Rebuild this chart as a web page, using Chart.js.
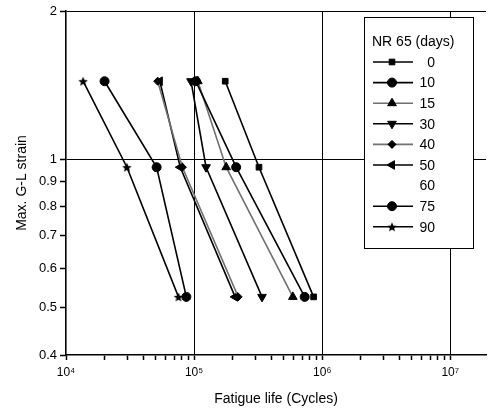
<!DOCTYPE html>
<html>
<head>
<meta charset="utf-8">
<script src="https://cdn.jsdelivr.net/npm/chart.js@4/dist/chart.umd.min.js"></script>
<style>
  html, body { margin: 0; padding: 0; background: #fff; }
</style>
</head>
<body>
<canvas id="fatigaChart" width="492" height="412"></canvas>
<script>
// DATOS
const dias = ["0", "10", "15", "30", "40", "50", "60", "75", "90"];
const deformacion = [1.44, 0.963, 0.525];
const ciclos0  = [175000, 321000, 857000];
const ciclos10 = [103000, 213000, 730000];
const ciclos15 = [107000, 178000, 590000];
const ciclos30 = [94600, 124000, 339000];
const ciclos40 = [52000, 81000, 221000];
const ciclos50 = [54000, 78000, 209000];
const ciclos60 = [];
const ciclos75 = [20000, 51000, 87000];
const ciclos90 = [13600, 29900, 75500];

const xTicksMayores = [1e4, 1e5, 1e6, 1e7];
const xTickLabels = ["10\u2074", "10\u2075", "10\u2076", "10\u2077"];
const yTicks = [0.4, 0.5, 0.6, 0.7, 0.8, 0.9, 1, 2];
const yTickLabels = ["0.4", "0.5", "0.6", "0.7", "0.8", "0.9", "1", "2"];

const FUENTE = '"Liberation Sans", Arial, sans-serif';

// estrella rellena de 5 puntas para la serie de 90 dias
function hacerEstrella(r) {
    const cv = document.createElement("canvas");
    const s = Math.ceil(r * 2 + 2);
    cv.width = s; cv.height = s;
    const c = cv.getContext("2d");
    c.fillStyle = "#000";
    c.beginPath();
    for (let i = 0; i < 10; i++) {
        const rad = i % 2 === 0 ? r : r * 0.45;
        const a = -Math.PI / 2 + i * Math.PI / 5;
        const px = s / 2 + rad * Math.cos(a);
        const py = s / 2 + rad * Math.sin(a) + 0.5;
        if (i === 0) c.moveTo(px, py); else c.lineTo(px, py);
    }
    c.closePath();
    c.fill();
    return cv;
}
const estrella = hacerEstrella(5);

function puntos(ciclos) {
    return ciclos.map((v, i) => ({ x: v, y: deformacion[i] }));
}

function serie(idx, ciclos, color, estilo, radio, rotacion, extra) {
    return Object.assign({
        label: dias[idx],
        data: puntos(ciclos),
        borderColor: color,
        borderWidth: 1.6,
        pointStyle: estilo,
        pointRadius: radio,
        pointHoverRadius: radio,
        rotation: rotacion,
        pointBackgroundColor: "#000",
        pointBorderColor: "#000",
        pointBorderWidth: 1,
        showLine: true,
        fill: false,
        tension: 0
    }, extra || {});
}

const gris = "#707070";
const datasets = [
    serie(0, ciclos0, "#000", "rect", 4, 0),
    serie(1, ciclos10, "#000", "circle", 4.5, 0),
    serie(2, ciclos15, gris, "triangle", 5, 0),
    serie(3, ciclos30, "#000", "triangle", 5, 180),
    serie(4, ciclos40, gris, "rectRot", 4, 0),
    serie(5, ciclos50, "#000", "triangle", 5, 270),
    serie(6, ciclos60, "transparent", false, 0, 0, { borderWidth: 0 }),
    serie(7, ciclos75, "#000", "circle", 4.5, 0),
    serie(8, ciclos90, "#000", estrella, 5, 0)
];

function esMayor(v) {
    return Math.abs(Math.log10(v) - Math.round(Math.log10(v))) < 1e-9;
}

// LEYENDA DENTRO DEL GRAFICO
const leyenda = {
    id: "leyenda",
    afterDraw(chart) {
        const c = chart.ctx;
        c.save();
        c.fillStyle = "#fff";
        c.fillRect(364, 17, 109, 231);
        c.strokeStyle = "#000";
        c.lineWidth = 1;
        c.strokeRect(364.5, 17.5, 109, 231);
        c.fillStyle = "#000";
        c.font = "14px " + FUENTE;
        c.textBaseline = "middle";
        c.textAlign = "left";
        c.fillText("NR 65 (days)", 372, 42);
        chart.data.datasets.forEach((ds, i) => {
            const y = 62 + i * 20.6;
            if (ds.pointRadius > 0) {
                c.strokeStyle = ds.borderColor;
                c.lineWidth = ds.borderWidth;
                c.beginPath();
                c.moveTo(373, y);
                c.lineTo(413, y);
                c.stroke();
                c.fillStyle = "#000";
                c.strokeStyle = "#000";
                c.lineWidth = 1;
                Chart.helpers.drawPoint(c, {
                    pointStyle: ds.pointStyle,
                    rotation: ds.rotation,
                    radius: ds.pointRadius,
                    borderWidth: 1
                }, 392, y);
            }
            c.fillStyle = "#000";
            c.textAlign = "right";
            c.fillText(ds.label, 435, y + 1);
        });
        c.restore();
    }
};

function ticksX(scale) {
    const t = [];
    for (let e = 4; e < 7; e++) {
        for (let m = 1; m < 10; m++) t.push({ value: m * Math.pow(10, e) });
    }
    t.push({ value: 1e7 });
    scale.ticks = t;
}

const ctx = document.getElementById("fatigaChart").getContext("2d");
const fatigaChart = new Chart(ctx, {
    type: "line",
    data: { datasets: datasets },
    options: {
        responsive: false,
        animation: false,
        devicePixelRatio: 1,
        layout: { padding: { top: 11, right: 2, left: 0, bottom: 0 } },
        plugins: {
            legend: { display: false },
            tooltip: { enabled: false }
        },
        scales: {
            x: {
                type: "logarithmic",
                min: 1e4,
                max: 1.9e7,
                afterBuildTicks: ticksX,
                afterFit: (s) => { s.height = 57; },
                border: { display: true, color: "#000", width: 1.6 },
                grid: {
                    color: (c) => (c.tick && esMayor(c.tick.value) && c.tick.value > 1e4 ? "#000" : "transparent"),
                    tickColor: "#000",
                    tickWidth: 1.5,
                    lineWidth: 1,
                    drawTicks: true,
                    tickLength: 5
                },
                ticks: {
                    autoSkip: false,
                    maxRotation: 0,
                    color: "#000",
                    padding: 5,
                    font: { family: FUENTE, size: 12 },
                    callback: function (v) {
                        const i = xTicksMayores.indexOf(v);
                        return i >= 0 ? xTickLabels[i] : "";
                    }
                },
                title: {
                    display: true,
                    text: "Fatigue life (Cycles)",
                    color: "#000",
                    font: { family: FUENTE, size: 14 },
                    padding: { top: 0, bottom: 4 }
                }
            },
            y: {
                type: "logarithmic",
                min: 0.4,
                max: 2,
                afterBuildTicks: (s) => { s.ticks = yTicks.map(v => ({ value: v })); },
                afterFit: (s) => { s.width = 66; },
                border: { display: true, color: "#000", width: 1.6 },
                grid: {
                    color: (c) => (c.tick && (c.tick.value === 1 || c.tick.value === 2) ? "#000" : "transparent"),
                    tickColor: "#000",
                    tickWidth: 1.5,
                    lineWidth: 1,
                    drawTicks: true,
                    tickLength: 6
                },
                ticks: {
                    autoSkip: false,
                    color: "#000",
                    padding: 3,
                    font: { family: FUENTE, size: 13 },
                    callback: function (v) {
                        const i = yTicks.indexOf(v);
                        return i >= 0 ? yTickLabels[i] : "";
                    }
                },
                title: {
                    display: true,
                    text: "Max. G-L strain",
                    color: "#000",
                    font: { family: FUENTE, size: 14 },
                    padding: { top: 14, bottom: 0 }
                }
            }
        }
    },
    plugins: [leyenda]
});
</script>
</body>
</html>
